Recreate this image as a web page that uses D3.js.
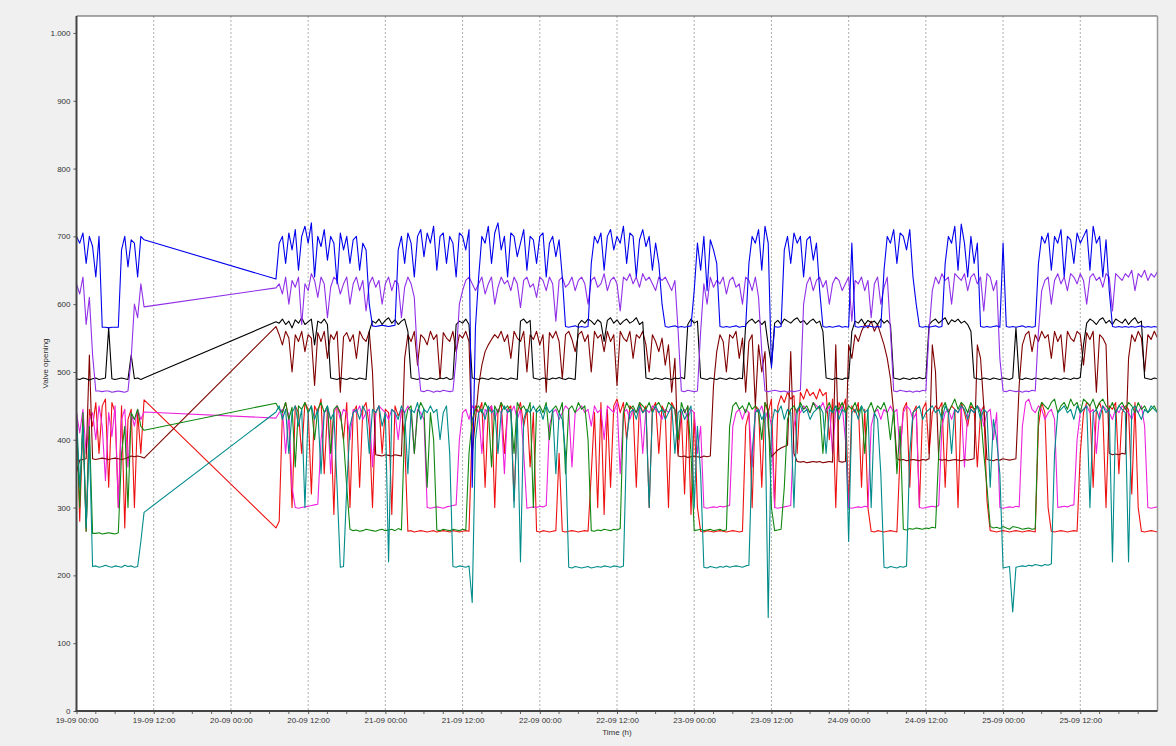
<!DOCTYPE html>
<html>
<head>
<meta charset="utf-8">
<script src="https://cdn.jsdelivr.net/npm/d3@7"></script>
<style>
html,body{margin:0;padding:0;background:#f0f0f0;}
svg{display:block;font-family:"Liberation Sans",Arial,sans-serif;}
</style>
</head>
<body>
<svg id="chart" width="1176" height="746"></svg>
<script>
// ---------------- DATA ----------------
const startTime = "2019-09-19T00:00:00Z";   // first sample of the log
const stepHours = 0.5;                        // sampling step of the values below
const blockA = [0, 10.5];                     // hours covered by the first logged block
const blockB = [31, 168];                     // hours covered by the second logged block
const xTickHours = [0, 12, 24, 36, 48, 60, 72, 84, 96, 108, 120, 132, 144, 156];
const yTicks = [0, 100, 200, 300, 400, 500, 600, 700, 800, 900, 1000];
const yMax = 1025;
const totalHours = 168;

const blueA = [700,690,705,660,700,685,640,700,566,566,565,566,566,566,680,700,655,695,690,640,700,695];
const blueB = [
 637,690,700,660,705,680,710,650,700,715,690,720,640,700,685,710,665,700,690,630,705,680,700,660,
 695,700,650,690,680,600,568,567,568,569,568,567,568,569,680,700,660,705,690,640,700,710,670,705,
 690,715,650,700,705,660,700,690,640,705,700,680,710,330,566,640,700,690,715,660,705,720,680,700,
 640,705,700,670,690,710,650,700,695,660,700,705,640,690,700,670,695,640,567,566,567,568,566,567,
 566,567,660,700,690,705,650,700,710,680,700,690,715,660,705,700,640,695,710,685,700,650,690,660,
 600,567,566,567,568,566,567,566,567,568,620,690,650,700,620,695,680,660,567,566,567,566,567,568,
 566,567,567,660,700,690,710,650,715,690,506,567,566,567,680,700,660,705,690,700,640,695,700,665,
 690,620,567,566,567,566,567,568,566,567,566,690,567,566,567,566,568,567,566,567,566,650,700,690,
 710,660,705,700,680,710,640,600,567,566,567,566,567,568,566,567,660,700,690,715,650,718,690,640,
 700,660,690,567,566,567,566,567,568,566,690,567,566,567,566,567,568,566,567,566,567,660,700,690,
 705,650,700,690,710,640,700,695,660,705,690,700,710,650,715,690,700,640,695,620,567,566,567,566,
 567,566,567,566,567,568,566,567,566,567,566];

const purpleA = [630,615,640,570,610,525,472,472,471,472,472,470,471,472,471,470,472,520,600,580,630,596];
const purpleB = [
 624,630,615,640,600,635,625,640,570,630,620,645,635,610,640,630,580,625,640,635,615,630,640,600,
 630,640,620,635,590,630,640,625,635,600,630,640,620,635,630,580,625,640,630,610,520,472,471,473,
 472,470,472,471,473,472,471,472,520,600,620,635,640,630,620,630,640,615,630,640,600,625,640,630,
 635,620,640,630,595,635,640,625,630,610,640,635,620,640,630,575,635,640,625,630,640,620,635,640,
 630,600,635,640,625,630,645,620,635,640,630,590,640,635,645,630,640,625,645,635,640,630,620,640,
 635,640,630,620,635,560,472,471,473,472,471,472,560,630,600,640,625,635,630,640,615,635,640,625,
 630,600,640,635,620,640,610,530,472,471,472,473,472,471,472,470,472,471,472,473,600,630,640,620,
 635,640,625,635,600,630,640,635,620,630,640,575,635,630,640,620,635,580,630,640,600,625,640,560,
 472,471,473,472,471,472,470,472,471,473,472,560,620,640,630,645,635,640,600,645,640,635,645,620,
 640,645,630,640,590,645,640,620,635,520,472,471,473,472,471,472,470,472,471,473,472,560,620,635,
 640,600,635,645,630,640,620,645,640,630,645,635,600,640,645,635,640,625,645,640,590,645,640,635,
 645,640,650,620,645,640,650,635,645,640,648];

const blackA = [490,489,491,490,488,490,491,489,490,491,565,490,489,490,491,490,489,525,490,491,489,491];
const blackB = [
 574,572,578,570,575,565,577,572,580,570,574,578,540,575,572,578,570,491,490,489,491,490,489,491,
 490,489,491,490,489,560,575,572,578,570,576,580,572,577,570,575,578,560,491,490,489,491,490,489,
 491,490,489,491,490,492,489,490,570,575,572,578,570,491,490,489,491,490,489,491,490,489,491,490,
 489,491,490,489,575,578,572,576,491,490,489,491,490,489,491,490,492,490,489,491,490,489,570,576,
 572,578,575,570,577,573,545,576,580,572,577,570,575,578,572,575,580,570,574,491,490,489,491,490,
 489,491,490,489,491,490,492,490,570,578,572,575,491,490,489,491,490,489,491,490,489,491,490,489,
 491,490,570,575,578,572,576,570,575,540,510,572,576,570,578,575,572,577,580,573,576,570,575,578,
 572,575,560,491,490,489,491,490,489,491,490,560,575,572,578,570,576,573,575,570,578,572,576,570,
 491,490,489,491,490,489,491,490,492,490,491,570,575,578,572,576,580,570,577,574,578,572,575,570,
 560,491,490,489,491,490,489,491,490,489,491,490,489,491,565,490,489,491,490,489,491,490,489,491,
 490,489,491,490,489,491,490,489,491,490,492,540,572,578,575,570,577,580,572,576,570,578,575,572,
 578,570,576,580,572,575,491,490,489,491,490];

const maroonA = [352,370,371,372,525,372,371,372,373,372,371,372,373,372,371,372,374,376,375,376,375,373];
const maroonB = [
 567,555,540,560,550,500,555,545,560,530,555,550,480,558,545,560,520,555,548,560,470,552,558,545,
 555,520,560,550,545,560,500,378,377,376,378,377,376,378,377,376,520,555,545,560,510,555,550,540,
 560,548,555,490,558,550,545,560,530,555,550,560,545,380,430,480,510,530,540,548,555,550,560,545,
 555,520,560,550,545,560,500,555,548,560,540,555,470,558,550,560,545,490,555,560,548,530,555,560,
 545,555,500,560,550,555,530,560,545,555,480,560,550,545,560,520,555,550,560,540,500,555,545,530,
 550,510,540,470,520,376,375,376,374,375,376,375,374,376,375,376,480,530,555,545,500,555,550,560,
 520,550,470,545,555,450,540,500,530,420,375,380,385,388,390,392,530,380,368,367,368,366,367,368,
 367,368,366,367,368,367,540,368,367,368,540,520,555,545,560,570,565,575,560,570,555,540,520,490,
 440,372,370,371,369,370,371,370,369,371,370,372,540,500,371,370,371,369,370,371,370,369,371,370,
 371,372,540,520,450,371,370,369,371,370,372,371,370,371,372,480,540,555,560,530,555,545,560,550,
 555,520,560,545,555,500,560,550,545,560,555,510,558,548,560,470,555,550,540,380,378,379,378,380,
 379,520,555,545,560,550,500,555,548,560,550];

const redA = [440,280,430,265,445,420,455,380,450,460,330,455,440,300,450,270,430,445,300,440,380,459];
const redB = [
 270,280,440,455,430,300,450,440,380,455,445,320,450,440,460,350,445,430,290,450,440,400,455,300,
 440,450,330,445,455,420,300,440,450,380,445,440,290,450,435,445,400,265,266,264,265,266,265,264,
 265,266,264,265,266,265,264,266,265,264,265,266,265,420,450,440,455,330,445,450,300,440,455,380,
 445,450,310,440,455,420,445,360,440,265,264,266,265,264,265,266,380,265,264,265,266,265,264,265,
 266,265,350,440,300,455,290,445,330,450,460,440,455,400,450,445,330,455,440,450,300,445,455,380,
 450,440,300,455,445,380,440,320,450,290,440,300,265,264,266,265,264,265,266,265,264,265,266,265,
 264,265,420,440,300,450,445,330,455,440,460,300,450,465,455,470,460,465,380,470,460,475,465,470,
 460,475,465,470,400,460,300,455,445,460,300,450,440,455,330,445,300,265,264,266,265,264,265,266,
 265,264,380,445,455,330,440,450,300,445,455,380,440,450,445,455,330,440,450,445,300,455,440,420,
 450,445,360,440,450,310,266,265,264,265,266,265,264,265,266,265,264,265,266,265,264,420,455,440,
 300,265,264,265,266,265,264,265,266,265,380,440,455,450,330,445,455,440,300,450,445,455,350,440,
 450,445,320,455,300,265,264,265,266,265,264];

const magentaA = [440,410,445,380,430,440,400,450,420,340,440,405,450,300,430,445,360,440,420,445,430,441];
const magentaB = [
 432,440,445,380,440,330,300,299,300,301,302,303,304,305,400,440,445,350,440,450,430,445,440,400,
 445,440,450,430,440,445,360,440,450,445,440,430,445,440,400,445,440,450,440,380,445,440,430,300,
 299,300,301,300,299,301,302,303,304,400,440,445,430,450,445,440,380,445,440,450,430,445,440,350,
 445,440,450,430,445,380,299,300,301,300,302,301,303,420,440,445,430,440,450,445,360,440,445,450,
 440,445,420,450,440,445,400,450,445,440,455,350,440,445,430,445,440,450,380,445,440,450,445,440,
 430,445,440,450,445,400,440,445,430,445,440,380,420,300,299,300,301,300,302,301,302,303,420,440,
 445,430,445,440,360,445,440,450,430,445,420,300,299,300,301,302,303,420,445,440,450,445,440,455,
 450,445,455,440,450,380,445,440,450,400,300,299,300,301,300,302,301,420,440,445,430,445,440,450,
 440,445,380,440,450,445,430,440,300,299,300,301,302,301,303,420,440,445,430,445,440,450,360,440,
 445,440,450,445,420,440,445,400,440,300,299,300,301,300,302,301,420,455,460,445,440,450,445,430,
 440,445,430,300,301,302,301,303,304,400,440,445,450,440,445,380,440,450,445,440,430,445,440,450,
 445,440,430,445,440,450,420,300,299,300,301];

const greenA = [430,300,440,265,420,262,262,263,261,262,263,262,261,263,380,420,300,440,430,445,420,414];
const greenB = [
 454,445,440,455,430,448,360,450,445,455,440,450,400,445,455,440,450,380,445,450,440,400,330,268,
 266,267,265,266,268,267,266,265,267,268,266,267,268,266,269,267,420,445,450,380,440,455,445,330,
 440,400,267,266,268,267,266,268,267,266,268,267,380,430,445,450,440,455,445,360,450,440,455,445,
 450,440,380,455,445,450,440,455,300,445,450,440,455,400,445,450,440,455,350,445,450,440,455,445,
 450,400,266,265,267,266,268,267,266,268,267,269,440,455,445,450,440,455,450,445,455,440,450,455,
 445,440,455,450,445,400,455,440,450,380,266,267,268,266,267,268,266,267,268,266,267,420,450,455,
 445,450,440,455,445,450,440,400,455,445,300,266,267,268,330,430,445,450,440,455,445,450,440,455,
 445,450,380,445,455,440,450,445,455,440,450,445,455,440,450,380,445,455,440,450,445,455,440,400,
 445,350,420,268,267,269,268,270,269,268,270,269,271,270,380,445,455,440,450,460,445,455,450,440,
 455,445,450,440,380,330,272,270,271,269,272,270,268,272,271,270,268,269,270,268,269,440,455,450,
 445,455,460,440,450,455,445,460,450,455,440,460,455,450,460,445,455,460,450,445,455,440,450,455,
 445,455,450,440,455,445,450,440,445,450,440];

const tealA = [440,330,420,270,400,213,214,212,213,215,213,212,214,213,212,215,213,214,212,213,250,293];
const tealB = [
 441,450,430,445,380,440,450,420,445,300,440,450,430,445,350,440,450,430,440,330,212,213,330,420,
 440,445,430,450,440,380,445,440,450,420,440,220,445,440,430,450,440,350,445,440,455,430,445,440,
 450,440,445,400,440,450,380,213,212,214,213,212,214,160,400,440,445,430,450,440,445,380,440,450,
 440,445,300,440,220,430,445,440,450,440,445,430,450,440,445,350,440,430,380,212,211,213,212,211,
 212,213,211,212,213,212,214,213,212,214,213,212,214,400,440,445,430,450,440,445,300,440,450,440,
 445,430,440,450,380,440,445,430,440,450,300,420,350,212,211,213,212,211,213,212,214,212,213,214,
 213,212,214,215,380,440,445,430,440,138,420,445,440,450,430,445,440,300,445,450,440,445,430,440,
 445,450,440,380,445,440,450,430,445,440,250,440,445,430,450,440,445,300,440,430,350,212,211,213,
 212,211,213,212,214,380,440,445,450,430,440,445,450,440,445,430,450,440,380,445,440,450,445,430,
 445,440,450,430,445,440,330,430,400,350,211,212,213,146,212,213,214,213,215,214,216,215,214,216,
 215,217,380,440,445,450,440,445,430,450,440,445,450,300,440,445,430,450,440,445,220,440,450,445,
 440,220,445,450,440,430,445,440,450,445,440];

// drawing order (first drawn = bottom)
const seriesList = [
  {name: "red",     a: redA,     b: redB,     color: "#ee1010"},
  {name: "magenta", a: magentaA, b: magentaB, color: "#ee22dd"},
  {name: "maroon",  a: maroonA,  b: maroonB,  color: "#800000"},
  {name: "black",   a: blackA,   b: blackB,   color: "#000000"},
  {name: "purple",  a: purpleA,  b: purpleB,  color: "#9030e8"},
  {name: "blue",    a: blueA,    b: blueB,    color: "#0000ee"},
  {name: "green",   a: greenA,   b: greenB,   color: "#118811"},
  {name: "teal",    a: tealA,    b: tealB,    color: "#008b8b"}
];

// ---------------- CHART ----------------
const W = 1176, H = 746;
const plot = {left: 76.5, right: 1157.5, top: 16, bottom: 711};
const svg = d3.select("#chart");
svg.append("rect").attr("width", W).attr("height", H).attr("fill", "#f0f0f0");

const t0 = Date.parse(startTime);
const hourToDate = h => new Date(t0 + h * 3600e3);
const x = d3.scaleUtc().domain([hourToDate(0), hourToDate(totalHours)]).range([plot.left, plot.right]);
const y = d3.scaleLinear().domain([0, yMax]).range([plot.bottom, plot.top]);

const hoursA = d3.range(blockA[0], blockA[1] + stepHours / 2, stepHours);
const hoursB = d3.range(blockB[0], blockB[1] + stepHours / 2, stepHours);

svg.append("rect")
  .attr("x", plot.left).attr("y", plot.top)
  .attr("width", plot.right - plot.left).attr("height", plot.bottom - plot.top)
  .attr("fill", "#ffffff");

// vertical dashed grid
svg.append("g").selectAll("line").data(xTickHours.filter(h => h > 0)).join("line")
  .attr("x1", h => x(hourToDate(h))).attr("x2", h => x(hourToDate(h)))
  .attr("y1", plot.top).attr("y2", plot.bottom)
  .attr("stroke", "#9a9a9a").attr("stroke-width", 0.8).attr("stroke-dasharray", "2,2");

svg.append("clipPath").attr("id", "clip").append("rect")
  .attr("x", plot.left).attr("y", plot.top)
  .attr("width", plot.right - plot.left).attr("height", plot.bottom - plot.top);

const line = d3.line().x(d => x(hourToDate(d[0]))).y(d => y(d[1]));
const gLines = svg.append("g").attr("clip-path", "url(#clip)");
seriesList.forEach(s => {
  const pts = hoursA.map((h, i) => [h, s.a[i]]).concat(hoursB.map((h, i) => [h, s.b[i]]))
    .filter(d => d[1] != null);
  gLines.append("path").datum(pts)
    .attr("fill", "none").attr("stroke", s.color).attr("stroke-width", 1.1)
    .attr("stroke-linejoin", "round").attr("d", line);
});

// frame
svg.append("line").attr("x1", plot.left).attr("x2", plot.right).attr("y1", plot.top).attr("y2", plot.top)
  .attr("stroke", "#555").attr("stroke-width", 1);
svg.append("line").attr("x1", plot.right).attr("x2", plot.right).attr("y1", plot.top).attr("y2", plot.bottom)
  .attr("stroke", "#999").attr("stroke-width", 1.5);

// axes
const locale = d3.formatLocale({decimal: ",", thousands: ".", grouping: [3], currency: ["", ""]});
const fmtY = locale.format(",d");
const fmtX = d3.utcFormat("%d-%m %H:%M");

const minorHours = d3.range(0, totalHours, 3).filter(h => h % 12 !== 0);
svg.append("g").selectAll("line").data(minorHours).join("line")
  .attr("x1", h => x(hourToDate(h))).attr("x2", h => x(hourToDate(h)))
  .attr("y1", plot.bottom).attr("y2", plot.bottom + 3)
  .attr("stroke", "#666").attr("stroke-width", 1);

const xAxis = svg.append("g").attr("transform", `translate(0,${plot.bottom})`)
  .call(d3.axisBottom(x).tickValues(xTickHours.map(hourToDate)).tickFormat(fmtX).tickSize(3).tickPadding(3));
const yAxis = svg.append("g").attr("transform", `translate(${plot.left},0)`)
  .call(d3.axisLeft(y).tickValues(yTicks).tickFormat(fmtY).tickSize(3).tickPadding(3));
[xAxis, yAxis].forEach(g => {
  g.select(".domain").remove();
  g.selectAll(".tick line").attr("stroke", "#555");
  g.selectAll(".tick text").attr("fill", "#333").style("font-size", "8px")
    .style("font-family", "'Liberation Sans', Arial, sans-serif");
});

svg.append("line").attr("x1", plot.left).attr("x2", plot.left).attr("y1", plot.top).attr("y2", plot.bottom + 1)
  .attr("stroke", "#444").attr("stroke-width", 2);
svg.append("line").attr("x1", plot.left - 1).attr("x2", plot.right).attr("y1", plot.bottom).attr("y2", plot.bottom)
  .attr("stroke", "#444").attr("stroke-width", 2);

svg.append("text").attr("x", (plot.left + plot.right) / 2).attr("y", 732).attr("dy", "0.35em")
  .attr("text-anchor", "middle").attr("fill", "#333").style("font-size", "8px").text("Time (h)");
svg.append("text").attr("transform", `translate(45,${(plot.top + plot.bottom) / 2}) rotate(-90)`)
  .attr("dy", "0.35em").attr("text-anchor", "middle").attr("fill", "#333").style("font-size", "8px")
  .text("Valve opening");
</script>
</body>
</html>
